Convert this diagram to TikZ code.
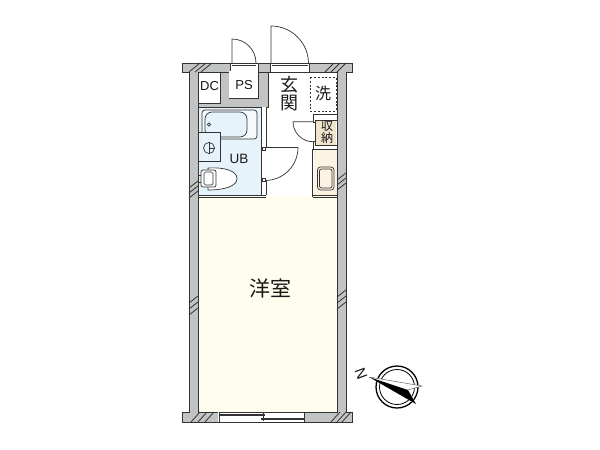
\documentclass[tikz,border=0pt]{standalone}
\usepackage{fontspec}
\setmainfont{Liberation Sans}
\newfontfamily\cjk{Noto Sans CJK JP}
\definecolor{wallc}{HTML}{C2C4C4}
\definecolor{linec}{HTML}{333333}
\definecolor{ubc}{HTML}{E6F3FB}
\definecolor{roomc}{HTML}{FFFEEE}
\definecolor{kitc}{HTML}{FDF3E3}
\definecolor{storc}{HTML}{EFE5CE}
\tikzset{
 wall/.style={fill=wallc,draw=linec,line width=0.9pt},
 thin/.style={draw=linec,line width=0.7pt},
 hatch/.style={draw=linec,line width=0.8pt},
 lab/.style={inner sep=0,text=black!90},
 fix/.style={draw=linec,line width=0.7pt,fill=ubc},
}
\begin{document}
\begin{tikzpicture}[x=1pt,y=-1pt]
\useasboundingbox (0,0) rectangle (600,450);
\fill[white] (0,0) rectangle (600,450);
% floors
\fill[roomc] (198,196) rectangle (337,412);
\fill[ubc] (198,107) rectangle (261,195);
\fill[kitc] (314,149) rectangle (337,196);
% walls
\draw[wall] (182,63) rectangle (352,72);
\draw[wall] (189,72) rectangle (198,412);
\draw[wall] (337,72) rectangle (346,412);
\draw[wall] (182,412) rectangle (352,422);
\fill[wallc] (189.5,71) rectangle (197.5,73);
\fill[wallc] (337.5,71) rectangle (345.5,73);
\fill[wallc] (189.5,411) rectangle (197.5,413);
\fill[wallc] (337.5,411) rectangle (345.5,413);
% top openings
\fill[white] (230,62) rectangle (258,73);
\fill[white] (270,62) rectangle (309,73);
\draw[thin] (230,63) -- (258,63) (230,72) -- (258,72) (230,63) -- (230,72) (258,63) -- (258,72);
\draw[thin] (270,63) -- (309,63) (270,72) -- (309,72) (270,63) -- (270,72) (309,63) -- (309,72);
\draw[thin] (232,65) -- (256,65) (272,65) -- (308,65);
% doors out
\draw[thin] (232,63) -- (232,39) arc[start angle=270,end angle=360,radius=24];
\draw[thin] (271,63) -- (271,26) arc[start angle=270,end angle=360,radius=37.5];
% PS and DC block
\draw[wall] (220,72) -- (229,72) -- (229,98) -- (258,98) -- (258,72) -- (268,72) -- (268,107) -- (198,107) -- (198,103) -- (220,103) -- cycle;
\fill[white] (229.4,71) rectangle (257.6,97.6);
\fill[white] (198.5,72.5) rectangle (219.6,102.6);
\draw[thin] (220,72) -- (220,103) -- (198,103);
% UB walls
\fill[white] (261,107) rectangle (266,147);
\draw[thin] (261,107) -- (261,195) (266,107) -- (266,147);
\draw[thin] (198,195) -- (266,195) (266,181) -- (266,195);
\draw[thin] (198,197) -- (266,197);
\fill[white] (262,147) rectangle (265.5,181);
\draw[thin] (262,147) rectangle (265.5,150);
\draw[thin] (262,178) rectangle (265.5,181);
% UB door
\draw[thin] (265.5,147.5) -- (298,147.5) arc[start angle=0,end angle=90,radius=33];
% bathtub
\draw[thin,rounded corners=3pt,fill=ubc!40] (202,110) rectangle (257,139);
\draw[thin,rounded corners=7pt,fill=ubc] (205,112) rectangle (247,137);
\draw[thin] (209,124.5) circle[radius=1.7];
% basin
\draw[fix] (198,132) rectangle (220,161);
\draw[thin] (209,148) circle[radius=5.5];
\draw[thin] (209,142) -- (209,154) (209,148) -- (215,148);
% toilet
\draw[thin,fill=white] (208,168) .. controls (225,167) and (237,171) .. (237,178.5) .. controls (237,186) and (225,190) .. (208,190) -- cycle;
\draw[thin,fill=white,rounded corners=2pt] (201,170) rectangle (216,187);
\draw[thin,rounded corners=1.5pt] (204,172) rectangle (213,185);
\draw[thin] (198,175) -- (201,175) (198,182) -- (201,182);
% washer
\draw[draw=linec,line width=0.8pt,dash pattern=on 2pt off 1.8pt] (310,77) rectangle (336,111);
% storage
\fill[storc] (315,120) rectangle (336,145);
\draw[thin] (313,114) -- (337,114) (313,114) -- (313,122) (315,120) -- (337,120) (315,120) -- (315,145) (313,141) -- (313,149) (315,145) -- (337,145);
\draw[thin] (313,149) -- (337,149);
\draw[thin] (313,122) -- (315.5,122) (313,141.5) -- (315.5,141.5);
\draw[thin] (313,121.7) -- (293,121.7) arc[start angle=180,end angle=90,radius=20];
% kitchen
\draw[thin] (312.5,149) -- (312.5,197) (315,149) -- (315,195) (312.5,195) -- (337,195) (312.5,197) -- (337,197);
\fill[kitc] (315.4,149.5) rectangle (336.5,194.6);
\draw[thin,rounded corners=3pt,fill=kitc] (317.5,167) rectangle (334,190);
\draw[thin,rounded corners=2pt] (319.5,169) rectangle (332,188);
% hatches
\foreach \a/\b in {189/72,195/72,201/72}{\draw[hatch] (\a,\b) -- +(11,-9);}
\foreach \a/\b in {325/72,331/72,337/72}{\draw[hatch] (\a,\b) -- +(9,-9);}
\foreach \a/\b in {189/188,189/193,189/198}{\draw[hatch] (\a,\b) -- +(9,-7);}
\foreach \a/\b in {337/180,337/185,337/190}{\draw[hatch] (\a,\b) -- +(9,-7);}
\foreach \a/\b in {189/303,189/309,189/315}{\draw[hatch] (\a,\b) -- +(9,-7);}
\foreach \a/\b in {337/297,337/303,337/309}{\draw[hatch] (\a,\b) -- +(9,-7);}
\foreach \a/\b in {191/422,198/422,205/422,331/422,337/422,342/422}{\draw[hatch] (\a,\b) -- +(9,-10);}
% window
\fill[white] (218,412) rectangle (305,422);
\draw[draw=linec,line width=0.9pt] (219,412) -- (219,422) (304,412) -- (304,422) (219,422) -- (304,422);
\draw[draw=linec,line width=1.3pt] (219,415) -- (265,415) (261,419) -- (304,419);
\draw[thin] (219,412) -- (304,412);
\draw[draw=linec,line width=0.8pt] (263,413) -- (263,421);
% labels
\node[lab,font=\fontsize{13}{13}\selectfont] (dc) at (209.5,86) {DC};
\node[lab,font=\fontsize{13}{13}\selectfont] (ps) at (244,85) {PS};
\node[lab,font=\fontsize{13.5}{13.5}\selectfont] (ub) at (239,158.5) {UB};
\node[lab,font=\cjk\fontsize{18}{18}\selectfont] (gen) at (289.5,85) {玄};
\node[lab,font=\cjk\fontsize{18}{18}\selectfont] (kan) at (289.5,103) {関};
\node[lab,font=\cjk\fontsize{16}{16}\selectfont] (sen) at (323,93) {洗};
\node[lab,font=\cjk\fontsize{12}{12}\selectfont] (shu) at (327,126) {収};
\node[lab,font=\cjk\fontsize{12}{12}\selectfont] (nou) at (327,138) {納};
\node[lab,font=\cjk\fontsize{21}{21}\selectfont] (yo) at (270,289) {洋室};
% compass
\draw[draw=black,line width=1.3pt,fill=white] (397,387) circle[radius=21];
\draw[draw=black,line width=0.8pt] (397,387) circle[radius=17.5];
\fill[white] (369,377) -- (422,386) -- (408,390) -- (416,404) -- cycle;
\draw[draw=black!60,line width=0.5pt] (369,377) -- (422,386) -- (408,390);
\fill[black] (369,377) -- (408,390) -- (416,404) -- cycle;
\node[lab,rotate=-70,font=\fontsize{15}{15}\selectfont] (north) at (361,373.5) {N};
\end{tikzpicture}
\end{document}
